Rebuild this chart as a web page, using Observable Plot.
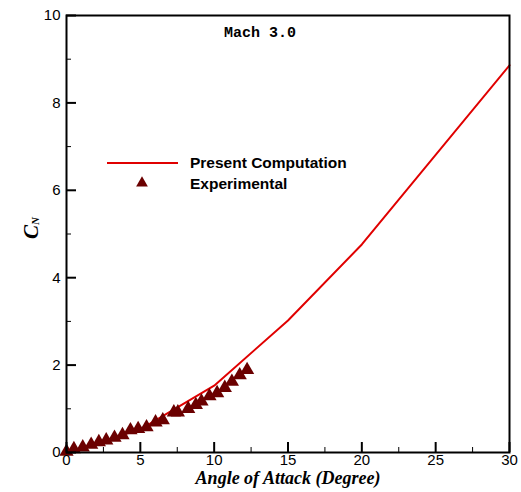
<!DOCTYPE html>
<html><head><meta charset="utf-8">
<script src="https://cdn.jsdelivr.net/npm/d3@7"></script>
<script src="https://cdn.jsdelivr.net/npm/@observablehq/plot@0.6"></script>
<style>body{margin:0;background:#fff}</style>
</head><body><div id="chart"></div>
<script>
const compAlpha = [0, 5, 10, 15, 20, 30];
const compCN = [0, 0.53, 1.53, 3.02, 4.76, 8.86];
const expAlpha = [0.0, 0.5, 1.1, 1.67, 2.19, 2.69, 3.25, 3.79, 4.33, 4.85, 5.42, 6.03, 6.52, 7.27, 7.54, 8.24, 8.76, 9.14, 9.68, 10.2, 10.72, 11.2, 11.73, 12.23];
const expCN = [0.02, 0.08, 0.12, 0.18, 0.24, 0.28, 0.34, 0.40, 0.51, 0.54, 0.58, 0.69, 0.74, 0.92, 0.92, 1.0, 1.09, 1.17, 1.29, 1.36, 1.48, 1.62, 1.77, 1.89];
const xMajor = [0, 5, 10, 15, 20, 25, 30];
const xMinor = [2.5, 7.5, 12.5, 17.5, 22.5, 27.5];
const yMajor = [0, 2, 4, 6, 8, 10];
const yMinor = [1, 3, 5, 7, 9];
const seriesNames = ["Present Computation", "Experimental"];
const titleText = "Mach 3.0";
const xLabel = "Angle of Attack (Degree)";

const comp = compAlpha.map((a, i) => ({a, c: compCN[i]}));
const exp = expAlpha.map((a, i) => ({a, c: expCN[i]}));

const W = 521, H = 492, mL = 66, mR = 12, mT = 15, mB = 40;
const pw = W - mL - mR, ph = H - mT - mB;
const lineColor = "#e00000", triColor = "#6b0000";

const plot = Plot.plot({
  width: W, height: H,
  marginLeft: mL, marginRight: mR, marginTop: mT, marginBottom: mB,
  style: {fontFamily: "Arial, 'Liberation Sans', sans-serif", fontSize: "15px", color: "#000", background: "#fff"},
  x: {domain: [0, 30]},
  y: {domain: [0, 10]},
  marks: [
    Plot.line(comp, {x: "a", y: "c", stroke: lineColor, strokeWidth: 2}),
    Plot.dot(exp, {x: "a", y: "c", symbol: "triangle", r: 5.3, fill: triColor, stroke: "none"}),
    Plot.ruleX(xMajor, {x: d => d, insetTop: ph - 10, stroke: "#000", strokeWidth: 2}),
    Plot.ruleX(xMinor, {x: d => d, insetTop: ph - 5, stroke: "#000", strokeWidth: 1}),
    Plot.ruleY(yMajor, {y: d => d, insetRight: pw - 10, stroke: "#000", strokeWidth: 2}),
    Plot.ruleY(yMinor, {y: d => d, insetRight: pw - 5, stroke: "#000", strokeWidth: 1}),
    Plot.frame({stroke: "#000", strokeWidth: 2}),
    Plot.axisX(xMajor, {tickSize: 0, tickPadding: 2, label: null, fontSize: 15}),
    Plot.axisY(yMajor, {tickSize: 0, tickPadding: 6, label: null, fontSize: 15}),
    Plot.text([titleText], {frameAnchor: "top", dx: -28, dy: 11, fontFamily: "'Liberation Mono', 'Courier New', monospace", fontWeight: "bold", fontSize: 15}),
    Plot.text([xLabel], {frameAnchor: "bottom", dy: 31, fontFamily: "'Liberation Serif', 'Times New Roman', serif", fontWeight: "bold", fontStyle: "italic", fontSize: 18}),
    Plot.text(["C"], {frameAnchor: "left", dx: -35, dy: 5, rotate: -90, fontFamily: "'Liberation Serif', 'Times New Roman', serif", fontWeight: "bold", fontStyle: "italic", fontSize: 21}),
    Plot.text(["N"], {frameAnchor: "left", dx: -31, dy: -9, rotate: -90, fontFamily: "'Liberation Serif', 'Times New Roman', serif", fontWeight: "bold", fontStyle: "italic", fontSize: 11})
  ]
});

// legend
const svg = d3.select(plot);
const lg = svg.append("g").attr("font-family", "Arial, 'Liberation Sans', sans-serif").attr("font-weight", "bold").attr("font-size", 15.5).attr("text-anchor", "start").attr("fill", "#000");
lg.append("line").attr("x1", 107).attr("x2", 178).attr("y1", 163).attr("y2", 163).attr("stroke", lineColor).attr("stroke-width", 2);
lg.append("path").attr("d", d3.symbol(d3.symbolTriangle, 60)()).attr("transform", "translate(142,183)").attr("fill", triColor);
lg.append("text").attr("x", 190).attr("y", 163).attr("dy", "0.35em").attr("text-anchor", "start").text(seriesNames[0]);
lg.append("text").attr("x", 190).attr("y", 184).attr("dy", "0.35em").attr("text-anchor", "start").text(seriesNames[1]);

document.getElementById("chart").appendChild(plot);
</script></body></html>
